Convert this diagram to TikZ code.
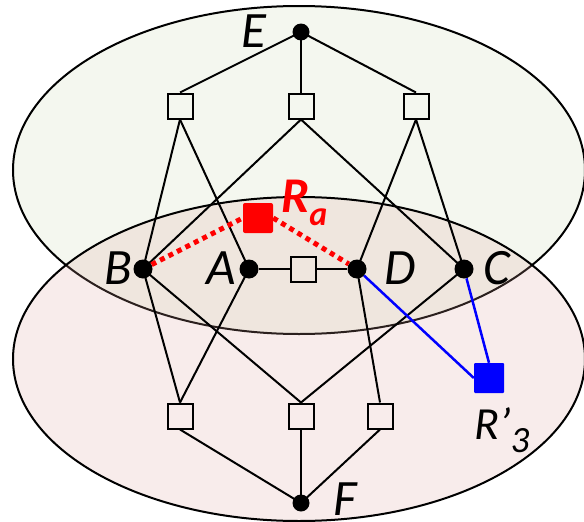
\documentclass[tikz,border=0pt]{standalone}
\usepackage{fontspec}
\setmainfont{Carlito}
\definecolor{topfill}{RGB}{244,247,239}
\definecolor{botfill}{RGB}{219,162,154}
\definecolor{rared}{RGB}{255,0,0}
\definecolor{rblue}{RGB}{0,0,255}
\begin{document}
\begin{tikzpicture}[x=1pt,y=-1pt,
  sq/.style={draw,line width=2pt,minimum size=25pt,inner sep=0pt},
  dot/.style={circle,fill=black,minimum size=19pt,inner sep=0pt},
  sdot/.style={circle,fill=black,minimum size=17pt,inner sep=0pt},
  lbl/.style={font=\fontsize{51}{51}\selectfont\itshape,inner sep=0pt},
  edge/.style={line width=2pt},
  redge/.style={draw=rared,line width=5pt,dash pattern=on 5pt off 4.5pt},
  bedge/.style={draw=rblue,line width=2.5pt}]
\useasboundingbox (0,0) rectangle (584,522);
\draw[line width=2pt,fill=topfill] (299,170) ellipse [x radius=286, y radius=164];
\draw[line width=2pt,fill=botfill,fill opacity=0.2] (299,359) ellipse [x radius=286, y radius=162];
% nodes
\node[sdot] (E) at (301,32) {};
\node[sq] (T1) at (180,106) {};
\node[sq] (T2) at (301,106) {};
\node[sq] (T3) at (416,106) {};
\node[dot] (B) at (143,269) {};
\node[dot] (A) at (249,269) {};
\node[sq] (M) at (303,269) {};
\node[dot] (D) at (357,269) {};
\node[dot] (C) at (464,269) {};
\node[fill=rared,rounded corners=2pt,minimum size=30pt,inner sep=0pt] (Ra) at (258,218) {};
\node[fill=rblue,rounded corners=1pt,minimum size=30pt,inner sep=0pt] (R3) at (489,378) {};
\node[sq] (L1) at (180,416) {};
\node[sq] (L2) at (301,416) {};
\node[sq] (L3) at (380,416) {};
\node[sdot] (F) at (301,503) {};
% edges
\draw[edge] (E.center) -- (T1.north);
\draw[edge] (E.center) -- (T2.north);
\draw[edge] (E.center) -- (T3.north);
\draw[edge] (T1.south) -- (B.center);
\draw[edge] (T1.south) -- (A.center);
\draw[edge] (T2.south) -- (B.center);
\draw[edge] (T2.south) -- (C.center);
\draw[edge] (T3.south) -- (D.center);
\draw[edge] (T3.south) -- (C.center);
\draw[edge] (A) -- (M) -- (D);
\draw[edge] (B.center) -- (L1.north);
\draw[edge] (B.center) -- (L2.north);
\draw[edge] (A.center) -- (L1.north);
\draw[edge] (C.center) -- (L2.north);
\draw[edge] (D.center) -- (L3.north);
\draw[edge] (L1.south) -- (F.center);
\draw[edge] (L2.south) -- (F.center);
\draw[edge] (L3.south) -- (F.center);
\draw[redge] (B) -- (Ra.west);
\draw[redge] (Ra.east) -- (D);
\draw[bedge] (D) -- (R3.west);
\draw[bedge] (C) -- (R3.north);
% labels
\node[lbl] (lE) at (254,31) {E};
\node[lbl] (lB) at (118,268) {B};
\node[lbl] (lA) at (221,268) {A};
\node[lbl] (lD) at (400,268) {D};
\node[lbl] (lC) at (497,268) {C};
\node[lbl] (lF) at (345,499) {F};
\node[anchor=base west,inner sep=0pt,text=rared,font=\fontsize{50}{50}\selectfont\bfseries\itshape] (lRa) at (281,212) {R\raisebox{-13pt}{\fontsize{34}{34}\selectfont a}};
\node[anchor=base west,inner sep=0pt,font=\fontsize{46}{46}\selectfont\itshape] (lR3) at (474,439) {R’\raisebox{-13pt}{\fontsize{37}{37}\selectfont 3}};
\end{tikzpicture}
\end{document}
